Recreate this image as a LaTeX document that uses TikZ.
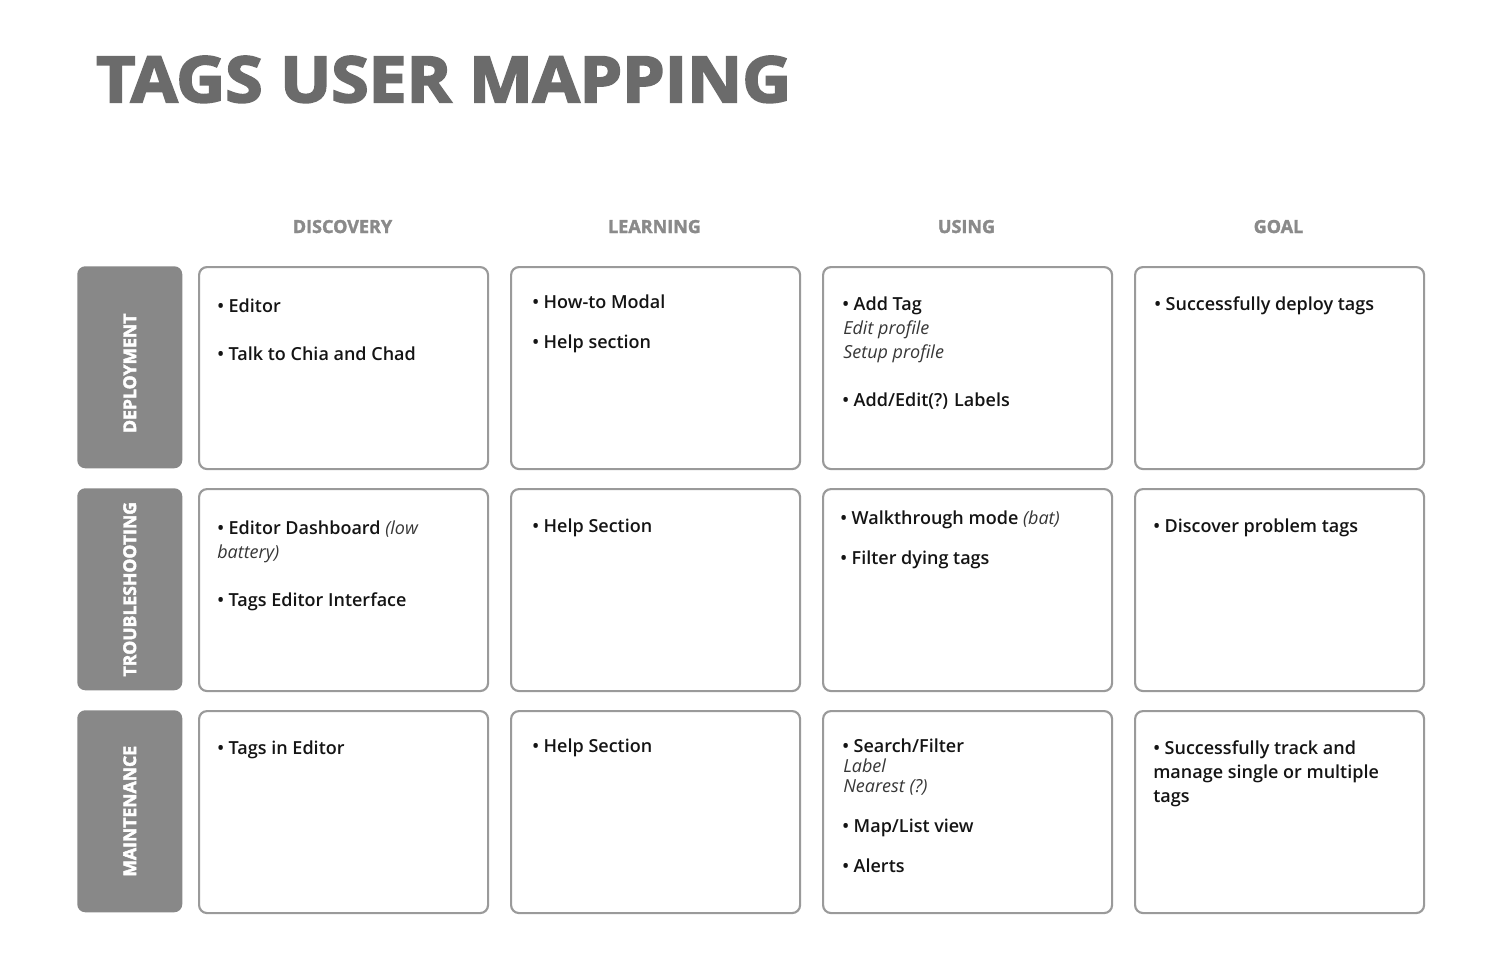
\documentclass[tikz,border=0pt]{standalone}
\usepackage{graphicx}
\usepackage{fontspec}
\setmainfont{Open Sans}
\IfFontExistsTF{Open Sans SemiBold}
  {\newfontfamily\bodyfont{Open Sans SemiBold}}
  {\IfFontExistsTF{Open Sans Semibold}
     {\newfontfamily\bodyfont{Open Sans Semibold}}
     {\newfontfamily\bodyfont{Open Sans}[FakeBold=2]}}
% heavier strokes: fill + stroke text rendering
\newcommand\thick[2]{\special{pdf:literal direct 2 Tr #1 w}#2\special{pdf:literal direct 0 Tr}}
\definecolor{titlegray}{HTML}{6B6B6B}
\definecolor{headgray}{HTML}{8A8A8A}
\definecolor{labelgray}{HTML}{888888}
\definecolor{cardline}{HTML}{9A9A9A}
\definecolor{ink}{HTML}{141414}
\tikzset{
  card/.style={draw=cardline, line width=1.6pt, rounded corners=6pt, fill=white,
    anchor=north west, minimum width=216.75pt, minimum height=151.5pt, inner sep=0pt},
  rowlab/.style={fill=labelgray, rounded corners=6pt,
    anchor=north west, minimum width=78.75pt, minimum height=151.5pt, inner sep=0pt},
  labtext/.style={rotate=90, text=white, inner sep=0pt,
    font=\bfseries\fontsize{13.2pt}{15pt}\selectfont},
  head/.style={anchor=base, inner sep=0pt, text=headgray,
    font=\bfseries\fontsize{13.5pt}{16pt}\selectfont},
  txt/.style={anchor=base west, inner sep=0pt, text=ink,
    font=\bodyfont\fontsize{13.5pt}{18pt}\selectfont},
  ital/.style={anchor=base west, inner sep=0pt, text=ink!85,
    font=\normalfont\itshape\fontsize{13.5pt}{18pt}\selectfont}
}
\begin{document}
\begin{tikzpicture}[x=0.75pt,y=-0.75pt]
\useasboundingbox (0,0) rectangle (1487,977);
\fill[white] (0,0) rectangle (1487,977);

% title
\node[anchor=south west, inner sep=0pt, text=titlegray] (title) at (96,103)
  {\resizebox{521.25pt}{34.5pt}{\bfseries\thick{0.3}{TAGS USER MAPPING}}};

% column headers
\node[head] (h1) at (342.5,233) {\thick{0.25}{DISCOVERY}};
\node[head] (h2) at (654.5,233) {\thick{0.25}{LEARNING}};
\node[head] (h3) at (966.5,233) {\thick{0.25}{USING}};
\node[head] (h4) at (1278.5,233) {\thick{0.25}{GOAL}};

% row labels
\node[rowlab] (r1) at (77,266) {};
\node[rowlab] (r2) at (77,488) {};
\node[rowlab] (r3) at (77,710) {};
\node[labtext] (r1t) at ([yshift=-4.5pt]r1.center) {\thick{0.35}{DEPLOYMENT}};
\node[labtext] (r2t) at (r2.center) {\thick{0.35}{TROUBLESHOOTING}};
\node[labtext] (r3t) at (r3.center) {\thick{0.35}{MAINTENANCE}};

% cards
\node[card] (c11) at (198,266) {};
\node[card] (c12) at (510,266) {};
\node[card] (c13) at (822,266) {};
\node[card] (c14) at (1134,266) {};
\node[card] (c21) at (198,488) {};
\node[card] (c22) at (510,488) {};
\node[card] (c23) at (822,488) {};
\node[card] (c24) at (1134,488) {};
\node[card] (c31) at (198,710) {};
\node[card] (c32) at (510,710) {};
\node[card] (c33) at (822,710) {};
\node[card] (c34) at (1134,710) {};

% row 1
\node[txt] (t11a) at (217,312) {• Editor};
\node[txt] (t11b) at (217,360) {• Talk to Chia and Chad};
\node[txt] (t12a) at (532,308) {• How-to Modal};
\node[txt] (t12b) at (532,348) {• Help section};
\node[txt] (t13a) at (842,310) {• Add Tag};
\node[ital] (t13b) at (843,334) {Edit profile};
\node[ital] (t13c) at (843,358) {Setup profile};
\node[txt] (t13d) at (842,406) {• Add/Edit(?) Labels};
\node[txt] (t14a) at (1154,310) {• Successfully deploy tags};

% row 2
\node[txt] (t21a) at (217,534) {• Editor Dashboard {\normalfont\itshape\color{ink!85}(low}};
\node[ital] (t21b) at (217,558) {battery)};
\node[txt] (t21c) at (217,606) {• Tags Editor Interface};
\node[txt] (t22a) at (532,532) {• Help Section};
\node[txt] (t23a) at (840,524) {• Walkthrough mode {\normalfont\itshape\color{ink!85}(bat)}};
\node[txt] (t23b) at (840,564) {• Filter dying tags};
\node[txt] (t24a) at (1153,532) {• Discover problem tags};

% row 3
\node[txt] (t31a) at (217,754) {• Tags in Editor};
\node[txt] (t32a) at (532,752) {• Help Section};
\node[txt] (t33a) at (842,752) {• Search/Filter};
\node[ital] (t33b) at (843,772) {Label};
\node[ital] (t33c) at (843,792) {Nearest (?)};
\node[txt] (t33d) at (842,832) {• Map/List view};
\node[txt] (t33e) at (842,872) {• Alerts};
\node[txt] (t34a) at (1153,754) {• Successfully track and};
\node[txt] (t34b) at (1153,778) {manage single or multiple};
\node[txt] (t34c) at (1153,802) {tags};
\end{tikzpicture}
\end{document}
